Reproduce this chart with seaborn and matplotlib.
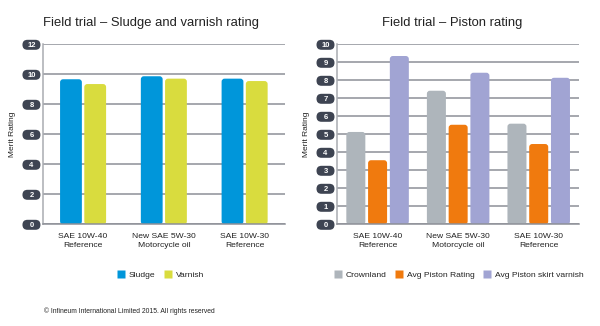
import numpy as np
import pandas as pd
import matplotlib
matplotlib.use("Agg")
import matplotlib.pyplot as plt
import seaborn as sns
from matplotlib.patches import FancyBboxPatch, BoxStyle, Rectangle
from matplotlib.lines import Line2D

# ---------------- data ----------------
oils = ["SAE 10W-40\nReference", "New SAE 5W-30\nMotorcycle oil", "SAE 10W-30\nReference"]
left_series = ["Sludge", "Varnish"]
sludge = [9.67, 9.87, 9.71]
varnish = [9.35, 9.71, 9.55]
right_series = ["Crownland", "Avg Piston Rating", "Avg Piston skirt varnish"]
crownland = [5.13, 7.42, 5.59]
avg_piston = [3.56, 5.53, 4.46]
skirt_varnish = [9.35, 8.42, 8.14]
left_ticks = [0, 2, 4, 6, 8, 10, 12]
right_ticks = [0, 1, 2, 3, 4, 5, 6, 7, 8, 9, 10]
left_title = "Field trial – Sludge and varnish rating"
right_title = "Field trial – Piston rating"
ylabel = "Merit Rating"
copyright_text = "© Infineum International Limited 2015. All rights reserved"

left_colors = ["#0096da", "#d9dc3e"]
right_colors = ["#aeb5bb", "#f07a0e", "#a1a4d3"]

df_left = pd.DataFrame({
    "oil": oils * 2,
    "series": [left_series[0]] * 3 + [left_series[1]] * 3,
    "value": sludge + varnish,
})
df_right = pd.DataFrame({
    "oil": oils * 3,
    "series": [right_series[0]] * 3 + [right_series[1]] * 3 + [right_series[2]] * 3,
    "value": crownland + avg_piston + skirt_varnish,
})

sns.set_style("white")
plt.rcParams["font.family"] = ["Liberation Sans", "DejaVu Sans"]

GRID = "#8d9097"
SPINE = "#a9acb1"
PILL = "#3e4452"
TXT = "#222222"

fig = plt.figure(figsize=(6.0, 3.26), dpi=100)
W, H = 600, 326
axL = fig.add_axes([42.7 / W, 1 - 224.3 / H, (285 - 42.7) / W, (224.3 - 44.3) / H])
axR = fig.add_axes([337.3 / W, 1 - 224.3 / H, (579 - 337.3) / W, (224.3 - 44.3) / H])


def pill_style(x0, y0, width, height, mutation_size):
    pw, ph = 18.0, 10.0
    cx = x0 + width / 2.0
    cy = y0 + height / 2.0 + 0.5
    return BoxStyle.Round(pad=0, rounding_size=(ph / 2.0) / mutation_size)(
        cx - pw / 2.0, cy - ph / 2.0, pw, ph, mutation_size)


def round_bars(ax, radius_px=3.0):
    bb = ax.get_window_extent()
    x0, x1 = ax.get_xlim()
    y0, y1 = ax.get_ylim()
    pxx = bb.width / (x1 - x0)
    pxy = bb.height / (y1 - y0)
    for p in list(ax.patches):
        if isinstance(p, Rectangle):
            x, y, w, h = p.get_x(), p.get_y(), p.get_width(), p.get_height()
            fc = p.get_facecolor()
            p.remove()
            ax.add_patch(FancyBboxPatch(
                (x, y), w, h,
                boxstyle=f"round,pad=0,rounding_size={radius_px / pxx}",
                mutation_aspect=pxx / pxy, fc=fc, ec="none", zorder=2))


def style_axis(ax, ticks, pad_pt):
    ax.set_xlim(-0.5, 2.5)
    ax.set_ylim(ticks[0], ticks[-1])
    ax.set_yticks(ticks, [str(t) for t in ticks], ha="center",
                  color="white", fontsize=5.5, fontweight="bold",
                  bbox=dict(boxstyle=pill_style, fc=PILL, ec="none"))
    ax.tick_params(axis="y", length=3, width=1.1, color=GRID, pad=pad_pt)
    ax.yaxis.grid(True, color=GRID, linewidth=1.1)
    ax.set_axisbelow(True)
    ax.set_xticks(range(len(oils)), oils, fontsize=6.1, color=TXT, linespacing=1.45)
    ax.tick_params(axis="x", which="major", length=0, pad=6.0)
    ax.set_xticks([-0.5, 0.5, 1.5, 2.5], minor=True)
    ax.tick_params(axis="x", which="minor", length=3, width=1.0, color=GRID, direction="out")
    for s in ["top", "right"]:
        ax.spines[s].set_visible(False)
    ax.spines["left"].set_color(SPINE)
    ax.spines["left"].set_linewidth(1.1)
    ax.spines["bottom"].set_color(GRID)
    ax.spines["bottom"].set_linewidth(1.1)
    ax.set_xlabel("")
    ax.set_ylabel("")


sns.barplot(data=df_left, x="oil", y="value", hue="series", order=oils,
            hue_order=left_series, palette=left_colors, width=0.60, gap=0.1,
            saturation=1, legend=False, ax=axL, zorder=2)
sns.barplot(data=df_right, x="oil", y="value", hue="series", order=oils,
            hue_order=right_series, palette=right_colors, width=0.81, gap=0.126,
            saturation=1, legend=False, ax=axR, zorder=2)

style_axis(axL, left_ticks, 5.1)
style_axis(axR, right_ticks, 5.5)
round_bars(axL)
round_bars(axR)

fig.text(151 / W, 1 - 23 / H, left_title, ha="center", va="center", fontsize=9.4, color=TXT)
fig.text(452 / W, 1 - 23 / H, right_title, ha="center", va="center", fontsize=9.4, color=TXT)
fig.text(12.5 / W, 1 - 134 / H, ylabel, rotation=90, ha="center", va="center", fontsize=6.0, color=TXT)
fig.text(306 / W, 1 - 134 / H, ylabel, rotation=90, ha="center", va="center", fontsize=6.0, color=TXT)


def make_legend(labels, colors, cx):
    handles = [Line2D([], [], marker="s", linestyle="none", markersize=6.3,
                      markerfacecolor=c, markeredgecolor="none") for c in colors]
    leg = fig.legend(handles, labels, loc="center", bbox_to_anchor=(cx / W, 1 - 275 / H),
                     ncol=len(labels), frameon=False, fontsize=6.1, handlelength=0.9,
                     handletextpad=0.45, columnspacing=1.05, borderaxespad=0)
    for t in leg.get_texts():
        t.set_color(TXT)
    return leg


make_legend(left_series, left_colors, 160.5)
make_legend(right_series, right_colors, 459)

fig.text(44 / W, 1 - 311 / H, copyright_text, ha="left", va="center", fontsize=4.9, color=TXT)

fig.savefig("out.png", dpi=100)
